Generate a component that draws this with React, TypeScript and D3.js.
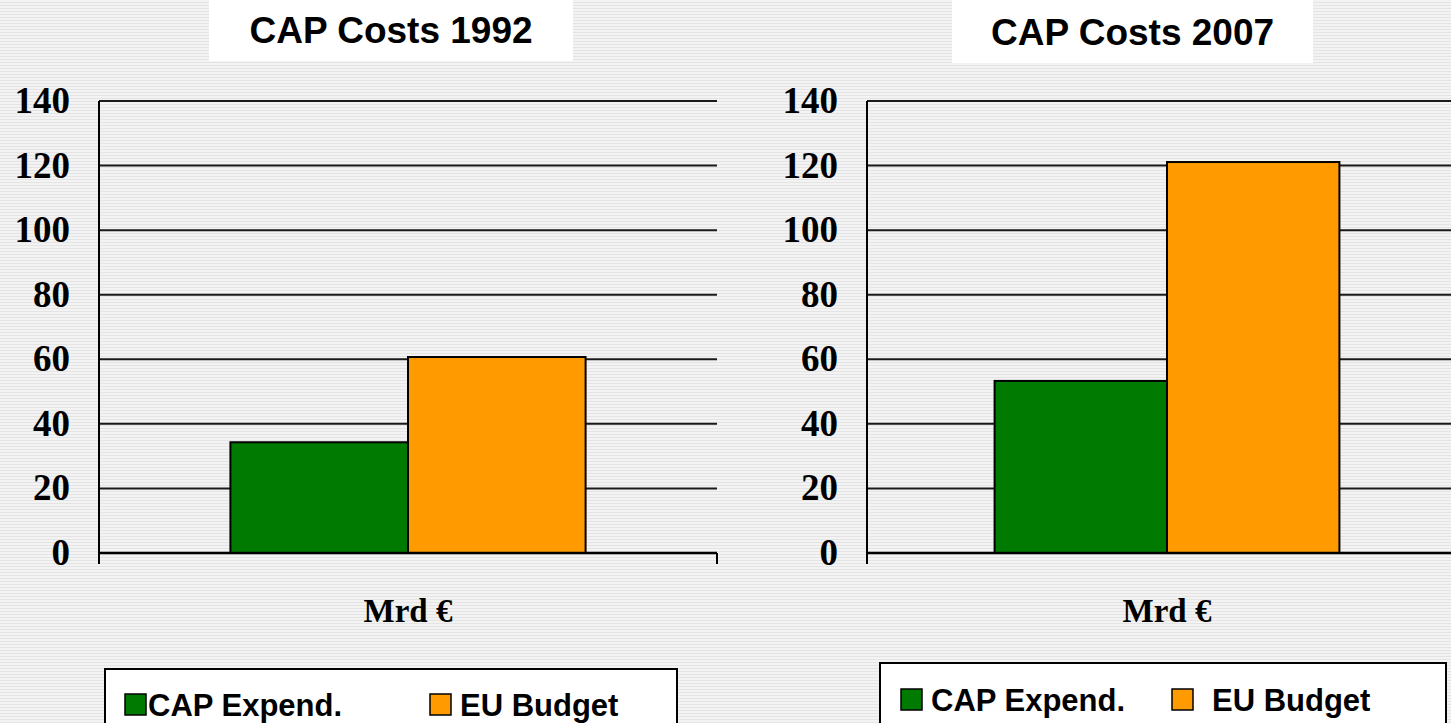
import * as d3 from 'd3';
import React from 'react';

// CAP costs vs EU budget, two side-by-side bar panels
const years = ['1992', '2007'];
const seriesNames = ['CAP Expend.', 'EU Budget'];
const capExpend = [34.3, 53.3];
const euBudget = [60.7, 121.1];
const categories = ['Mrd €'];
const yTicks = [0, 20, 40, 60, 80, 100, 120, 140];
const seriesColors = ['#007a00', '#ff9a00'];

const W = 1451;
const H = 723;

// layout of each panel (not data)
const panels = [
  { plotLeft: 99, plotRight: 717, titleBox: [209, 573, 61], titleBase: 43,
    legendBox: [105, 669, 677], legendBase: 716, swatchX: [125, 430], textX: [148, 460] },
  { plotLeft: 867, plotRight: 1467, titleBox: [952, 1313, 63], titleBase: 45,
    legendBox: [880, 663, 1446], legendBase: 711, swatchX: [901, 1172], textX: [931, 1212] },
];

const yScale = d3.scaleLinear().domain([0, 140]).range([553, 101]);

const sans = '"Liberation Sans", Arial, sans-serif';
const serif = '"Liberation Serif", "Times New Roman", serif';

function Panel({ idx }) {
  const p = panels[idx];
  const values = [capExpend[idx], euBudget[idx]];
  const x = d3.scaleBand().domain(categories).range([p.plotLeft, p.plotRight])
    .paddingInner(0).paddingOuter(0.37);
  const inner = d3.scaleBand().domain(seriesNames).range([0, x.bandwidth()]).padding(0);
  const y0 = yScale(0);
  const [bl, bt, br] = p.legendBox;
  const [tl, tr, tb] = p.titleBox;

  return (
    <g>
      <rect x={tl} y={0} width={tr - tl} height={tb} fill="#fff" />
      <text x={(tl + tr) / 2} y={p.titleBase} textAnchor="middle" fontFamily={sans}
        fontWeight="bold" fontSize={37}>CAP Costs {years[idx]}</text>

      {yTicks.map(t => (
        <g key={t}>
          <line x1={p.plotLeft} x2={p.plotRight} y1={yScale(t)} y2={yScale(t)}
            stroke="#1a1a1a" strokeWidth={2} />
          <text x={p.plotLeft - 29} y={yScale(t) + 12} textAnchor="end" fontFamily={serif}
            fontWeight="bold" fontSize={37}>{t}</text>
        </g>
      ))}

      {categories.map(c => (
        <g key={c}>
          {seriesNames.map((s, i) => (
            <rect key={s} x={x(c) + inner(s)} y={yScale(values[i])} width={inner.bandwidth()}
              height={y0 - yScale(values[i])} fill={seriesColors[i]} stroke="#000" strokeWidth={2} />
          ))}
          <text x={x(c) + x.bandwidth() / 2} y={622} textAnchor="middle" fontFamily={serif}
            fontWeight="bold" fontSize={33}>{c}</text>
        </g>
      ))}

      <line x1={p.plotLeft} x2={p.plotLeft} y1={yScale(140)} y2={y0 + 11} stroke="#000" strokeWidth={2} />
      <line x1={p.plotRight} x2={p.plotRight} y1={y0} y2={y0 + 11} stroke="#000" strokeWidth={2} />
      <line x1={p.plotLeft} x2={p.plotRight} y1={y0} y2={y0} stroke="#000" strokeWidth={2.5} />

      <rect x={bl} y={bt} width={br - bl} height={H - bt + 20} fill="#fff" stroke="#000" strokeWidth={2} />
      {seriesNames.map((s, i) => (
        <g key={s}>
          <rect x={p.swatchX[i]} y={p.legendBase - 22} width={21} height={21}
            fill={seriesColors[i]} stroke="#000" strokeWidth={1.5} />
          <text x={p.textX[i]} y={p.legendBase} fontFamily={sans} fontWeight="bold" fontSize={31}>{s}</text>
        </g>
      ))}
    </g>
  );
}

export default function App() {
  return (
    <svg width={W} height={H} style={{ position: 'absolute', left: 0, top: 0, display: 'block' }}>
      <defs>
        <pattern id="stripes" width={8} height={3} patternUnits="userSpaceOnUse">
          <rect width={8} height={3} fill="#f3f3f3" />
          <rect y={2} width={8} height={1} fill="#e4e4e4" />
        </pattern>
      </defs>
      <rect width={W} height={H} fill="url(#stripes)" />
      {years.map((yr, i) => <Panel key={yr} idx={i} />)}
    </svg>
  );
}
